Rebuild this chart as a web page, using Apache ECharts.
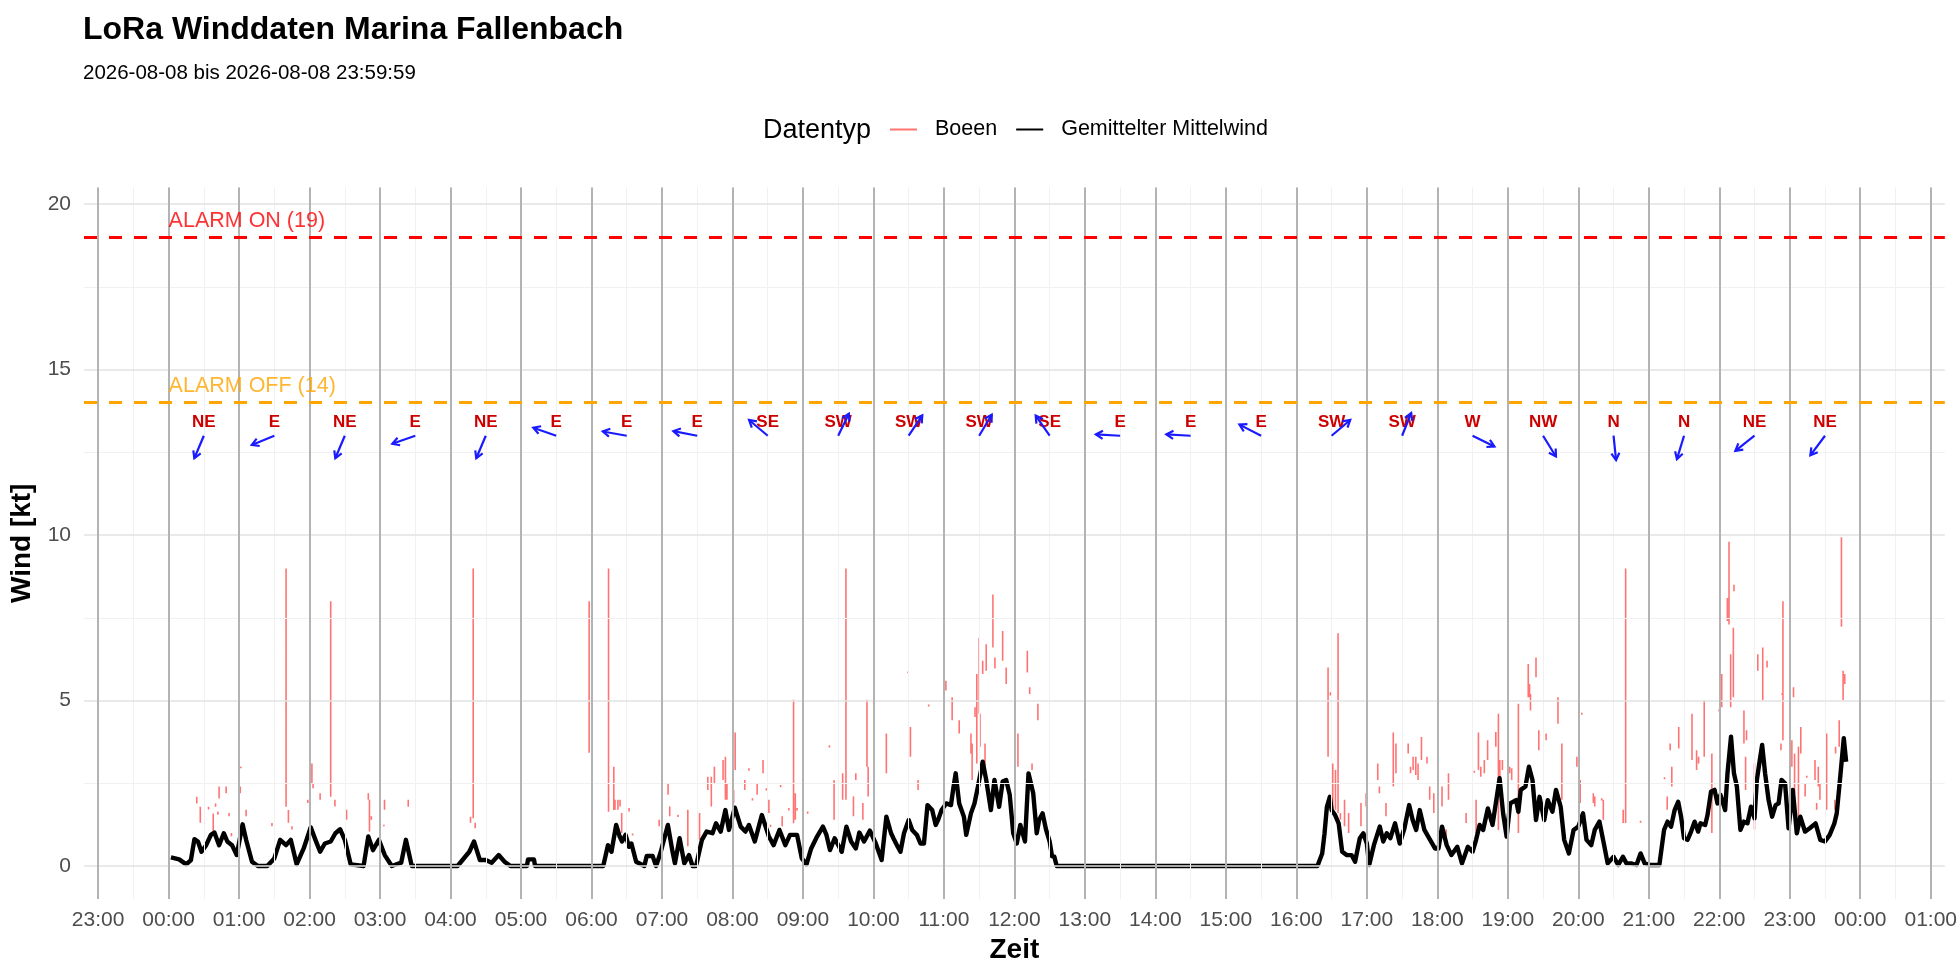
<!DOCTYPE html>
<html><head><meta charset="utf-8">
<script src="https://cdn.jsdelivr.net/npm/echarts@6/dist/echarts.min.js"></script>
<style>html,body{margin:0;padding:0;background:#fff}#chart{width:1960px;height:980px}</style>
</head><body><div id="chart"></div>
<script>
// ---------- DATA ----------
// Mean wind (minutes after 00:00, knots)
const windMinutes = [2,9,15,19,22,25,28,32,36,39,43,47,50,54,58,63,66,71,76,84,90,95,100,104,109,115,121,125,129,133,138,142,146,150,155,166,170,174,179,184,190,198,202,207,246,256,260,265,270,275,281,286,291,305,306,311,312,
356,370,374,377,381,384,386,389,392,394,398,405,407,412,415,419,425,429,431,435,439,443,446,449,454,458,463,466,470,474,477,482,487,491,494,499,505,511,515,520,525,529,535,539,543,547,552,557,560,563,567,573,577,581,585,588,592,597,602,607,611,615,
617,620,623,626,630,633,637,640,643,646,650,653,655,658,662,666,668,670,673,677,679,683,686,689,693,696,700,703,707,710,713,716,719,722,725,729,732,736,739,741,744,747,750,752,754,756,
978,979,982,984,986,988.5,990,993,996,999,1003,1007,1010,1014,1017,1020,1022,1026,1031,1034,1037,1040,1044,1048,1052,1056,1059,1062,1065,1069,1073,1078,1081,1084,1088,1092,1097,1101,1106,1110,1113,1116,1119,1123,1127,1133,1136,1139,1142,1147,1149,1151,1155,1158,1161,1164,1167,1171,1174,1178,1181,1185,1188,1192,1196,1200,1204,1207,1211,1214,1218,1222,1225,1230,1234,1238,
1241,1245,1249.5,1253,1256.5,1261,1269,1273,1276,1279,1282,1285,1287.5,1290,1293,1296,1299,1302,1304,1308,1310,1313,1316,1318.5,1321,1325,1327,1330,1332.5,1335,1338,1341,1344,1347,1350,1352,1354.5,1356.5,1359,1362,1365,1368,1370.5,1373,1376,1379,1382.6,1386,1389,1393,1397,1402,1406,1410,1414,1418,1420,1423,1426,1428];
const windValues = [0.26,0.2,0.05,0.18,0.81,0.74,0.43,0.63,0.94,1.01,0.63,0.99,0.74,0.63,0.33,1.26,0.79,0.13,0,0,0.23,0.79,0.63,0.79,0.05,0.53,1.17,0.79,0.43,0.68,0.74,0.99,1.11,0.79,0.05,0,0.89,0.48,0.79,0.33,0,0.1,0.79,0,0,0.43,0.74,0.18,0.18,0.1,0.33,0.13,0,0,0.2,0.2,0,
0,0,0.63,0.43,1.24,0.89,0.74,0.94,0.58,0.68,0.13,0,0.3,0.3,0,0.43,1.24,0.43,0.08,0.84,0.08,0.33,0,0,0.79,1.04,0.99,1.29,1.04,1.69,1.09,1.76,1.19,1.04,1.24,0.74,1.54,0.89,0.63,1.09,0.63,0.94,0.94,0.23,0.05,0.53,0.89,1.19,0.94,0.48,0.84,0.43,1.19,0.74,0.53,1.01,0.74,1.07,0.68,0.18,1.49,0.99,
0.84,0.63,0.43,0.99,1.39,1.09,0.94,0.68,0.68,1.84,1.69,1.24,1.39,1.69,1.89,1.84,2.35,2.8,1.89,1.49,0.94,1.59,1.89,2.4,3.15,2.6,1.69,2.6,1.79,2.55,2.6,2.15,0.99,0.68,1.24,0.74,2.8,2.2,0.99,1.39,1.59,1.09,0.74,0.3,0.28,0,
0,0.1,0.38,0.99,1.79,2.09,1.69,1.54,1.29,0.43,0.33,0.33,0.13,0.84,0.99,0.68,0.03,0.63,1.19,0.74,0.99,0.84,1.29,0.68,1.14,1.84,1.39,1.09,1.69,1.09,0.84,0.53,0.53,1.19,0.63,0.33,0.58,0.08,0.58,0.43,0.79,1.24,1.09,1.74,1.24,2.65,1.59,0.89,1.89,1.99,1.64,2.3,2.4,3.0,2.6,1.39,2.09,1.39,1.99,1.64,2.3,1.79,0.79,0.38,1.09,1.19,1.59,0.79,0.63,1.09,1.34,0.63,0.08,0.28,0.03,0.28,
0.08,0.08,0.03,0.38,0.08,0.03,0.03,1.09,1.34,1.19,1.69,1.94,1.49,0.84,0.79,1.04,1.34,1.04,1.29,1.24,1.54,2.25,2.3,1.89,2.15,1.69,2.8,3.91,2.8,2.4,1.09,1.34,1.29,1.79,1.44,2.6,3.2,3.66,2.8,1.99,1.49,1.84,1.89,2.6,2.5,1.14,2.3,0.99,1.49,1.04,1.14,1.29,0.79,0.74,0.94,1.29,1.59,2.7,3.86,3.15];

// Gusts: each reading drawn as a short vertical stroke (minute, low, high)
const gustMinutes = [24,27,34,38,40,42,43,49,51.5,53.5,61,61.5,66,88,100,102,105,118.5,122,123,129,138,141.6,151.5,170,171,172.6,183.8,183.3,204,257,259.3,261,
358,374.5,379,380,382.5,384.3,385.7,392,395,417.6,420,425.2,426.6,433.6,442,452,459,462,464.6,472,474,475.3,481,482.3,490.5,494,497,501,506,508.8,511,512.4,521,522.3,528,532,533.5,535,544,562.5,566.5,573.8,576.6,583,585,591,594.5,595.5,611,
629.5,631.5,638,647,660,661.7,667,673,683,684,686.5,688,690,690.7,693,695,696,701.7,703.4,710,713,723,731,733,735,740,
987,989,991,993.3,995.5,997.5,1001,1004.5,1015,1019.4,1029.3,1030.7,1036.3,1042.5,1044.8,1055.2,1057.2,1059.4,1061.7,1063.6,1066.5,1071.2,1073.5,1077,1080.5,1084,1087.6,1089.5,1104.5,1111.5,1113,1115,1117,1120,1122.8,1129.8,1132,1133.2,1135.4,1141.6,1143.3,1149,1157.4,1158.5,1159.3,1164,1166.4,1172.6,1182.7,1186,1198.8,1201.6,1203,1212.8,1214,1219.9,1221.3,1238.2,1240.3,
1253,1273.4,1275.7,1278.2,1279.6,1285.5,1296.8,1300.7,1302.4,1307.2,1313.7,1319.9,1322.1,1326.9,1328.3,1329.7,1332,1332.5,1341,1342.4,1343.2,1350,1352.8,1357,1360.7,1372.5,1373.6,1374.2,1381.8,1383.2,1384.1,1387.4,1389.4,1393.1,1394.5,1401.5,1402.9,1404.3,1405.7,1411.4,1418.4,1419,1422.1,1424,1425.4,1426.8];
const gustLow = [1.89,1.31,1.71,1.04,1.79,1.55,2.04,2.2,1.5,0.9,2.2,2.95,1.5,1.2,1.79,1.31,1.1,1.9,2.5,2.35,2.0,2.09,1.8,1.4,2.0,1.04,1.4,1.7,1.2,1.79,1.31,1.44,1.14,
3.42,1.64,1.69,1.7,1.7,1.8,1.0,1.65,0.92,1.2,1.48,2.15,1.5,1.48,0.6,0.8,2.3,1.8,2.5,2.6,2.0,2.0,1.9,2.9,2.3,2.88,1.98,2.15,2.8,2.28,1.6,1.18,2.38,1.2,1.68,1.29,1.4,1.68,1.58,3.58,1.4,2.0,2.0,1.5,2.6,1.4,3.0,2.1,2.8,
5.82,3.3,2.3,4.82,3.0,5.3,4.4,4.0,3.4,2.6,4.5,3.1,4.6,3.6,5.8,3.0,5.9,6.6,5.97,6.2,5.5,3.0,5.85,5.2,2.9,4.4,
3.3,5.15,1.6,1.7,1.6,1.4,1.2,1.0,1.2,1.8,2.6,2.2,1.5,2.4,2.8,3.4,2.8,2.9,2.75,2.6,3.2,3.1,2.0,1.6,1.5,1.8,0.9,2.0,1.3,2.82,1.0,2.9,2.7,2.8,3.2,3.6,1.09,2.2,2.9,2.8,2.6,1.0,5.1,5.1,4.7,5.7,3.5,3.8,4.3,2.0,3.0,1.9,4.57,1.9,1.8,1.98,1.4,1.3,1.3,
1.31,2.62,1.7,3.5,2.4,3.55,3.2,2.9,3.1,3.3,1.0,4.67,4.8,7.4,7.3,4.8,5.1,8.3,3.7,2.3,3.8,1.1,5.9,5.0,6.0,3.5,5.17,3.8,3.0,5.1,2.2,1.0,3.4,2.1,2.67,2.6,1.7,2.4,2.0,1.7,1.7,3.4,3.6,7.23,5.0,5.5];
const gustHigh = [2.09,1.79,1.79,1.59,1.89,1.65,2.4,2.4,1.6,1.0,2.4,3.0,1.7,1.3,8.99,1.69,1.2,2.0,3.1,2.5,2.2,8.0,2.0,1.7,2.2,2.0,1.5,2.0,1.25,2.0,1.49,8.99,1.31,
8.0,8.99,3.0,2.0,2.0,2.0,1.6,1.75,0.98,1.4,1.55,2.5,1.8,1.55,1.7,1.6,2.7,2.7,3.0,3.2,3.3,2.5,2.3,4.03,2.6,2.95,2.05,2.5,3.2,2.35,2.0,1.25,2.45,1.5,1.75,5.02,2.2,1.75,1.65,3.65,2.6,2.8,8.99,2.1,2.8,1.9,5.02,3.0,4.0,
5.88,4.2,2.6,4.88,4.8,5.6,5.1,4.4,4.0,3.7,4.8,5.8,6.9,4.6,6.2,3.7,6.7,8.2,6.3,7.1,6.0,4.0,6.5,5.4,3.1,4.9,
6.0,5.25,3.1,2.9,7.03,1.6,2.0,1.6,1.9,2.2,3.1,2.4,1.9,4.03,3.7,3.7,3.0,3.3,3.3,3.1,3.9,3.3,2.4,2.2,1.6,2.4,1.1,2.8,1.6,2.88,2.0,4.03,3.0,3.2,3.8,4.05,4.6,3.2,3.2,3.0,2.95,4.9,6.1,5.5,5.2,6.3,4.1,4.0,5.1,3.7,3.3,2.6,4.63,2.2,2.1,2.05,2.0,1.7,8.99,
1.37,2.68,2.1,3.7,3.0,4.2,4.6,3.5,3.3,5.0,3.4,4.73,5.8,8.1,9.8,6.4,7.2,8.5,4.7,3.3,4.1,3.1,6.4,6.6,6.2,3.7,5.23,8.0,3.8,5.4,3.4,3.6,4.2,2.5,2.73,3.2,1.9,3.0,2.5,4.0,2.0,3.6,4.4,9.93,5.9,5.8];

// Wind direction (hourly, degrees the wind comes from) and their labels
const dirMinutes = [30,90,150,210,270,330,390,450,510,570,630,690,750,810,870,930,990,1050,1110,1170,1230,1290,1350,1410];
const dirDegrees = [23,68,23,71,23,109,100,101,130,206,214,211,145,93,93,117,230,202,296,328,354,17,52,37];
const dirLabels  = ['NE','E','NE','E','NE','E','E','E','SE','SW','SW','SW','SE','E','E','E','SW','SW','W','NW','N','N','NE','NE'];

// Alarm thresholds
const alarmValues = [19, 14];
const alarmNames  = ['ALARM ON', 'ALARM OFF'];

// Axis ticks
const xTickMinutes = [-60,0,60,120,180,240,300,360,420,480,540,600,660,720,780,840,900,960,1020,1080,1140,1200,1260,1320,1380,1440,1500];
const xTickLabels  = ['23:00','00:00','01:00','02:00','03:00','04:00','05:00','06:00','07:00','08:00','09:00','10:00','11:00','12:00','13:00','14:00','15:00','16:00','17:00','18:00','19:00','20:00','21:00','22:00','23:00','00:00','01:00'];
const xMinorMinutes = [-30,30,90,150,210,270,330,390,450,510,570,630,690,750,810,870,930,990,1050,1110,1170,1230,1290,1350,1410,1470];
const yTicks = [0,5,10,15,20];
const yMinorTicks = [2.5,7.5,12.5,17.5];

// ---------- CHART ----------
const FONT = 'Liberation Sans, Arial, Helvetica, sans-serif';
const chart = echarts.init(document.getElementById('chart'), null, {renderer: 'canvas'});

const gustData = [];
gustMinutes.forEach((t, i) => {
  gustData.push([t, gustLow[i]], [t, gustHigh[i]], [t, null]);
});
const windData = windMinutes.map((t, i) => [t, windValues[i]]);
const dirData = dirMinutes.map((t, i) => [t, dirDegrees[i]]);
const alarmColors = ['#ff0000', '#ffa500'];

const ARROW_Y = 13.0, LABEL_Y = 13.42, ARROW_LEN_MIN = 20.7, ARROW_LEN_KT = 0.74, HEAD = 8;

const gridLines = [];
xMinorMinutes.forEach(v => gridLines.push({xAxis: v, lineStyle: {color: '#f1f1f1', width: 1, type: 'solid'}}));
xTickMinutes.forEach(v => gridLines.push({xAxis: v, lineStyle: {color: '#ebebeb', width: 1.6, type: 'solid'}}));
yMinorTicks.forEach(v => gridLines.push({yAxis: v, lineStyle: {color: '#f1f1f1', width: 1, type: 'solid'}}));
yTicks.forEach(v => gridLines.push({yAxis: v, lineStyle: {color: '#e2e2e2', width: 1.6, type: 'solid'}}));

const option = {
  animation: false,
  backgroundColor: '#ffffff',
  title: {
    text: 'LoRa Winddaten Marina Fallenbach',
    subtext: '2026-08-08 bis 2026-08-08 23:59:59',
    left: 78, top: 9, itemGap: 17,
    textStyle: {fontFamily: FONT, fontSize: 32, fontWeight: 'bold', color: '#000'},
    subtextStyle: {fontFamily: FONT, fontSize: 20.5, color: '#000'}
  },
  graphic: [{
    type: 'text', x: 763, y: 131,
    style: {text: 'Datentyp', font: '27px ' + FONT, fill: '#000', verticalAlign: 'middle', align: 'left'}
  }],
  legend: {
    left: 889, top: 118.5, padding: 0,
    itemWidth: 27, itemHeight: 14, itemGap: 18,
    data: ['Boeen', 'Gemittelter Mittelwind'],
    itemStyle: {opacity: 0},
    textStyle: {fontFamily: FONT, fontSize: 21.5, color: '#000', padding: [0, 0, 0, 13]},
    selectedMode: false
  },
  grid: {left: 84, top: 187.5, width: 1875, height: 711.6, containLabel: false},
  xAxis: {
    type: 'value', min: -72, max: 1512, interval: 12,
    name: 'Zeit', nameLocation: 'middle', nameGap: 36,
    nameTextStyle: {fontFamily: FONT, fontSize: 28, fontWeight: 'bold', color: '#000'},
    axisLine: {show: false, onZero: false}, axisTick: {show: false}, splitLine: {show: false},
    axisLabel: {
      margin: 11, fontFamily: FONT, fontSize: 21, color: '#4d4d4d',
      formatter: v => { const i = xTickMinutes.findIndex(t => Math.abs(t - v) < 1e-6); return i >= 0 ? xTickLabels[i] : ''; }
    }
  },
  yAxis: {
    type: 'value', min: -1, max: 20.5, interval: 0.5,
    name: 'Wind [kt]', nameLocation: 'middle', nameGap: 38, nameRotate: 90,
    nameTextStyle: {fontFamily: FONT, fontSize: 28, fontWeight: 'bold', color: '#000'},
    axisLine: {show: false, onZero: false}, axisTick: {show: false}, splitLine: {show: false},
    axisLabel: {
      margin: 13, fontFamily: FONT, fontSize: 21, color: '#4d4d4d',
      formatter: v => yTicks.some(t => Math.abs(t - v) < 1e-6) ? String(Math.round(v)) : ''
    }
  },
  series: [
    {
      name: 'grid', type: 'line', data: [], z: 0, silent: true,
      markLine: {silent: true, symbol: ['none', 'none'], label: {show: false}, data: gridLines}
    },
    {
      name: 'hours', type: 'line', data: [], z: 1, silent: true,
      markLine: {silent: true, symbol: ['none', 'none'], label: {show: false},
        lineStyle: {color: '#b3b3b3', width: 2, type: 'solid'},
        data: xTickMinutes.map(v => ({xAxis: v}))}
    },
    {
      name: 'alarm', type: 'line', data: [], z: 2, silent: true,
      markLine: {silent: true, symbol: ['none', 'none'], label: {show: false},
        data: alarmValues.map((v, i) => ({yAxis: v, lineStyle: {color: alarmColors[i], width: 2.8, type: [13, 12]}}))}
    },
    {
      name: 'Boeen', type: 'line', data: gustData, z: 3,
      symbol: 'none', showSymbol: false, connectNulls: false,
      lineStyle: {color: 'rgba(255,0,0,0.55)', width: 1.6},
      itemStyle: {color: 'rgba(255,0,0,0.55)'}
    },
    {
      name: 'Gemittelter Mittelwind', type: 'line', data: windData, z: 4,
      symbol: 'none', showSymbol: false,
      lineStyle: {color: '#000', width: 4.4, join: 'round'},
      itemStyle: {color: '#000'}
    },
    {
      name: 'alarmLabels', type: 'scatter', z: 5, silent: true,
      data: alarmValues.map((v, i) => ({value: [0, v + 0.5], name: alarmNames[i] + ' (' + v + ')',
        label: {color: alarmColors[i]}})),
      symbolSize: 0,
      label: {show: true, position: 'right', distance: 0, formatter: p => p.name,
        fontFamily: FONT, fontSize: 21.5}
    },
    {
      name: 'directions', type: 'custom', z: 6, silent: true,
      data: dirData,
      renderItem: (params, api) => {
        const t = api.value(0), deg = api.value(1);
        const to = (deg + 180) * Math.PI / 180;
        const p0 = api.coord([t, ARROW_Y]);
        const p1 = api.coord([t + ARROW_LEN_MIN * Math.sin(to), ARROW_Y + ARROW_LEN_KT * Math.cos(to)]);
        const a = Math.atan2(p1[1] - p0[1], p1[0] - p0[0]);
        const h1 = [p1[0] - HEAD * Math.cos(a - Math.PI / 6), p1[1] - HEAD * Math.sin(a - Math.PI / 6)];
        const h2 = [p1[0] - HEAD * Math.cos(a + Math.PI / 6), p1[1] - HEAD * Math.sin(a + Math.PI / 6)];
        const pl = api.coord([t, LABEL_Y]);
        return {
          type: 'group',
          children: [
            {type: 'text', style: {text: dirLabels[params.dataIndex], x: pl[0], y: pl[1],
              align: 'center', verticalAlign: 'middle', font: 'bold 17px ' + FONT, fill: '#cc0000'}},
            {type: 'line', shape: {x1: p0[0], y1: p0[1], x2: p1[0], y2: p1[1]},
              style: {stroke: '#1a1aff', lineWidth: 2.2}},
            {type: 'polyline', shape: {points: [h1, p1, h2]},
              style: {stroke: '#1a1aff', lineWidth: 2.2, fill: null}}
          ]
        };
      }
    }
  ]
};
chart.setOption(option);
</script>
</body></html>
